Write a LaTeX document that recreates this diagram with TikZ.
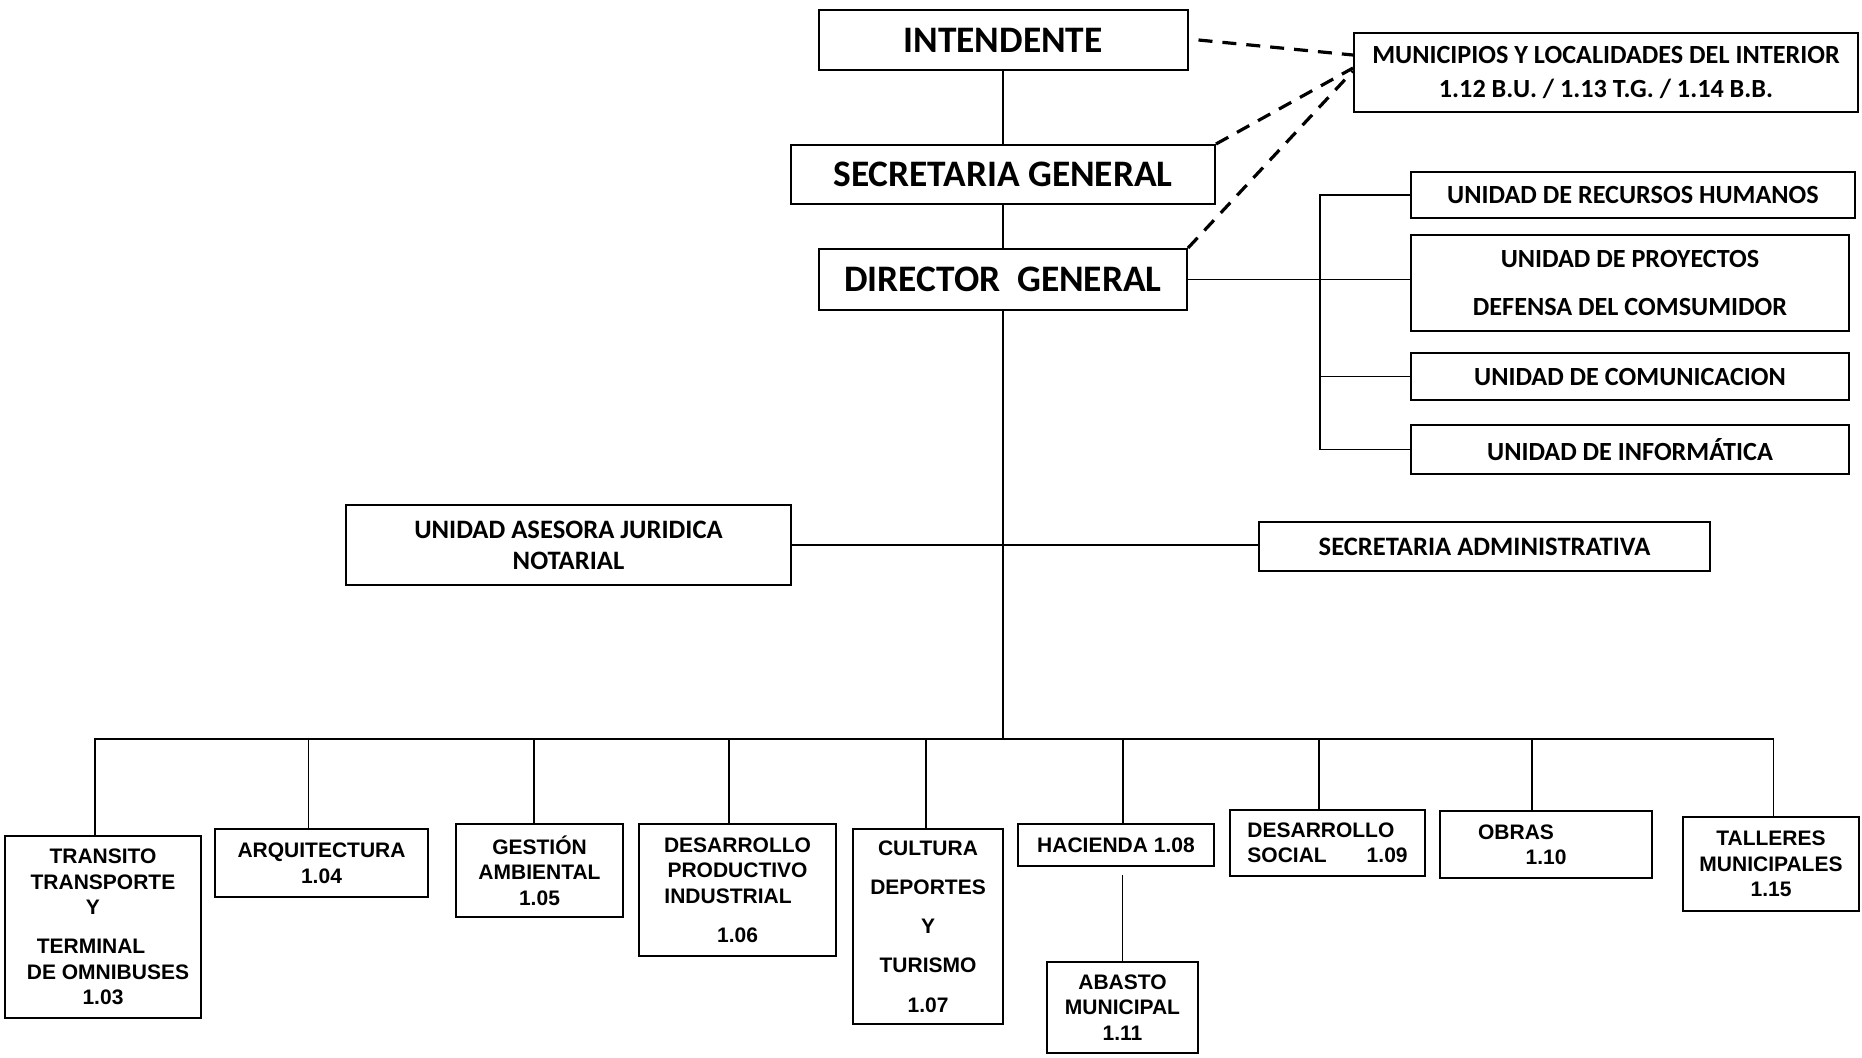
\documentclass[tikz,border=0pt]{standalone}
\usepackage{fontspec}
\usepackage{tikz}
\newfontfamily\calib{Carlito}
\newfontfamily\arialf{Liberation Sans}

\tikzset{
  box/.style={draw, line width=1pt, inner sep=2pt, align=center},
  bigbox/.style={box, font=\calib\bfseries\fontsize{18.7}{22}\selectfont},
  unitbox/.style={box, font=\calib\bfseries\fontsize{13.1}{16.6}\selectfont},
  condbox/.style={box, font=\calib\bfseries\fontsize{13.3}{15.4}\selectfont},
  dptbox/.style={box, font=\arialf\bfseries\fontsize{10.5}{12.75}\selectfont},
  link/.style={line width=0.9pt},
  dashlink/.style={line width=1.6pt, dash pattern=on 7pt off 5pt},
}

\begin{document}
\begin{tikzpicture}[x=0.5pt, y=-0.5pt]
\useasboundingbox (0,0) rectangle (1862,1057);

% cabecera
\node[bigbox, minimum width=184.5pt, minimum height=30pt] (int) at (1003,40) {INTENDENTE};
\node[unitbox, minimum width=252pt, minimum height=39.5pt] (mun) at (1606,72.5) {MUNICIPIOS Y LOCALIDADES DEL INTERIOR\\1.12 B.U. / 1.13 T.G. / 1.14 B.B.};
\node[bigbox, minimum width=212pt, minimum height=29.5pt] (sg) at (1003,174.5) {SECRETARIA GENERAL};
\node[bigbox, minimum width=184pt, minimum height=30.5pt] (dg) at (1003,279.5) {DIRECTOR\ \ GENERAL};

% unidades
\node[unitbox, minimum width=222pt, minimum height=23pt] (rrhh) at (1633,195) {UNIDAD DE RECURSOS HUMANOS};
\node[unitbox, minimum width=219pt, minimum height=48pt] (proy) at (1630,283) {UNIDAD DE PROYECTOS\\[7pt]DEFENSA DEL COMSUMIDOR};
\node[unitbox, minimum width=219pt, minimum height=23.5pt] (com) at (1630,376.5) {UNIDAD DE COMUNICACION};
\node[unitbox, minimum width=219pt, minimum height=24.5pt] (inf) at (1630,449.5) {UNIDAD DE INFORMÁTICA};

\node[condbox, minimum width=222.5pt, minimum height=40pt] (jur) at (568.5,545) {UNIDAD ASESORA JURIDICA\\NOTARIAL};
\node[condbox, minimum width=225.5pt, minimum height=24.5pt] (adm) at (1484.5,546.5) {SECRETARIA ADMINISTRATIVA};

% direcciones
\node[dptbox, minimum width=98pt, minimum height=91pt] (tra) at (103,927) {TRANSITO\\TRANSPORTE\\\hspace*{-10pt}Y\\[6.8pt]\hspace*{-12pt}TERMINAL\\\hspace*{5pt}DE OMNIBUSES\\1.03};
\node[dptbox, minimum width=106.5pt, minimum height=34pt] (arq) at (321.5,863) {ARQUITECTURA\\1.04};
\node[dptbox, minimum width=83.5pt, minimum height=46.5pt] (ges) at (539.5,870.5) {GESTIÓN\\AMBIENTAL\\1.05};
\node[dptbox, minimum width=98.5pt, minimum height=66pt] (dpi) at (737.5,890) {DESARROLLO\\PRODUCTIVO\\\hspace*{-9.5pt}INDUSTRIAL\\[6.8pt]1.06};
\node[dptbox, minimum width=75pt, minimum height=97.5pt, font=\arialf\bfseries\fontsize{10.5}{19.6}\selectfont] (cul) at (928,926.5) {CULTURA\\DEPORTES\\Y\\TURISMO\\1.07};
\node[dptbox, minimum width=98pt, minimum height=21pt] (hac) at (1116,845) {HACIENDA 1.08};
\node[dptbox, minimum width=75.5pt, minimum height=45.5pt] (aba) at (1122.5,1007.5) {ABASTO\\MUNICIPAL\\1.11};
\node[dptbox, minimum width=97.5pt, minimum height=33pt, align=left] (dso) at (1327.5,843) {DESARROLLO\\SOCIAL\hspace{20pt}1.09};
\node[dptbox, minimum width=106pt, minimum height=33.5pt] (obr) at (1546,844.5) {\hspace*{-30pt}OBRAS\\1.10};
\node[dptbox, minimum width=88pt, minimum height=47pt] (tal) at (1771,864) {TALLERES\\MUNICIPALES\\1.15};

% lineas de mando
\draw[link] (int) -- (sg);
\draw[link] (sg) -- (dg);
\coordinate (bus) at (1003,739);
\draw[link] (dg) -- (bus);

\coordinate (brk) at (1320,283);
\draw[link] (dg.east) -- (dg.east -| proy.west);
\draw[link] (rrhh.west) -| (brk) |- (inf.west);
\draw[link] (com.west) -- (com.west -| brk);

\draw[link] (jur.east) -- (jur.east -| adm.west);

\draw[link] ([xshift=-4pt]tra.north) |- (bus) -| ([xshift=1.25pt]tal.north);
\foreach \n/\s in {arq/-6.5pt, ges/-2.75pt, dpi/-4.25pt, cul/-1pt, hac/3.5pt, dso/-4.25pt, obr/-7pt}
  \draw[link] ([xshift=\s]\n.north) -- ([xshift=\s]\n.north |- bus);
\draw[link] ([yshift=-4pt]hac.south -| aba.north) -- (aba.north);

% dependencias del interior
\draw[dashlink] ([xshift=5pt]int.east) -- ([yshift=8.75pt]mun.west);
\draw[dashlink] (sg.north east) -- ([yshift=2.25pt]mun.west);
\draw[dashlink] (dg.north east) -- ([yshift=0.75pt]mun.west);
\end{tikzpicture}
\end{document}
